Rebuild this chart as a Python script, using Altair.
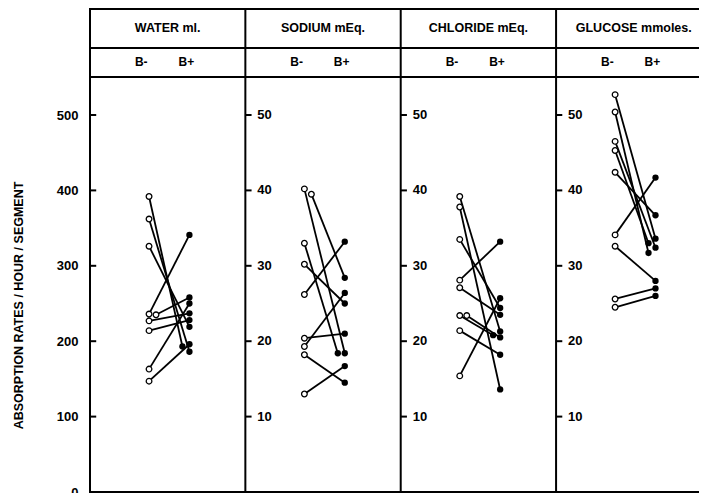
import altair as alt
import pandas as pd

panels = ["WATER ml.", "SODIUM mEq.", "CHLORIDE mEq.", "GLUCOSE mmoles."]
scale_factor = [10, 1, 1, 1]  # water is plotted at 1/10 against the common 0-50 scale
ticks_values = [10, 20, 30, 40, 50]
left_labels = [0, 100, 200, 300, 400, 500]

water_before = [392, 362, 326, 236, 235, 227, 214, 163, 147]
water_after = [193, 186, 219, 341, 258, 237, 228, 250, 196]
sodium_before = [40.2, 39.5, 33.0, 30.2, 26.2, 20.4, 19.3, 18.2, 13.0]
sodium_after = [18.4, 28.4, 18.4, 25.0, 33.2, 21.0, 26.4, 14.5, 16.7]
chloride_before = [39.2, 37.8, 33.5, 28.1, 27.1, 23.4, 23.4, 21.4, 15.4]
chloride_after = [21.3, 13.6, 24.4, 33.2, 23.5, 20.8, 20.5, 18.2, 25.7]
glucose_before = [52.7, 50.4, 46.5, 45.3, 42.4, 34.1, 32.6, 25.6, 24.5]
glucose_after = [33.6, 31.7, 32.4, 33.0, 36.7, 41.7, 28.0, 27.0, 26.0]

series = [
    (water_before, water_after),
    (sodium_before, sodium_after),
    (chloride_before, chloride_after),
    (glucose_before, glucose_after),
]

X_OPEN, X_FILL, SHIFT = 0.38, 0.64, 0.045


def dodge(values):
    """Flag a value when it overlaps the previous (sorted) one."""
    order = sorted(range(len(values)), key=lambda k: -values[k])
    flags = [False] * len(values)
    prev_v, prev_shift = None, False
    for k in order:
        v = values[k]
        if prev_v is not None and abs(v - prev_v) < 0.8 and not prev_shift:
            flags[k] = True
        prev_shift = flags[k]
        prev_v = v
    return flags


rows = []
for i, (before, after) in enumerate(series):
    f = scale_factor[i]
    b = [v / f for v in before]
    a = [v / f for v in after]
    fb = dodge(b)
    fa = dodge(a)
    for j in range(len(b)):
        pid = f"{i}-{j}"
        rows.append({"pair": pid, "grp": "B-", "ord": 0, "v": b[j],
                     "x": i + X_OPEN + (SHIFT if fb[j] else 0)})
        rows.append({"pair": pid, "grp": "B+", "ord": 1, "v": a[j],
                     "x": i + X_FILL - (SHIFT if fa[j] else 0)})
pts = pd.DataFrame(rows)

FONT = "Liberation Sans"
W, H = 609, 415
TOP = 69
xs = alt.Scale(domain=[0, 3.92], nice=False, zero=False)
ys = alt.Scale(domain=[0, 55.04], nice=False, zero=True)

lines = alt.Chart(pts).mark_line(color="black", strokeWidth=1.8).encode(
    x=alt.X("x:Q", scale=xs, axis=None),
    y=alt.Y("v:Q", scale=ys, axis=alt.Axis(
        values=[v / 10 for v in left_labels], labelExpr="datum.value * 10",
        domain=False, ticks=False, grid=False, labelPadding=12,
        labelFontSize=13, labelFontWeight="bold", labelFont=FONT, labelColor="black",
        title="ABSORPTION RATES / HOUR / SEGMENT", titleFont=FONT, titleFontSize=12.5,
        titleFontWeight="bold", titleColor="black", titleX=-72, titleY=228,
        titleAngle=-90, titleAlign="center", titleBaseline="middle")),
    detail="pair:N",
    order="ord:Q",
)

open_pts = alt.Chart(pts[pts.grp == "B-"]).mark_point(
    shape="circle", filled=True, fill="white", stroke="black", strokeWidth=1.3,
    size=32, opacity=1
).encode(x=alt.X("x:Q", scale=xs), y=alt.Y("v:Q", scale=ys))

fill_pts = alt.Chart(pts[pts.grp == "B+"]).mark_circle(
    color="black", size=40, opacity=1
).encode(x=alt.X("x:Q", scale=xs), y=alt.Y("v:Q", scale=ys))

# frame: vertical edges / dividers
div_df = pd.DataFrame({"x": [0, 1, 2, 3]})
dividers = alt.Chart(div_df).mark_rule(color="black", strokeWidth=2).encode(
    x=alt.X("x:Q", scale=xs), y=alt.value(-TOP + 0.5), y2=alt.value(H))

# frame: horizontal lines (top, header separator, plot top, bottom)
hl_df = pd.DataFrame({"y": [-TOP + 1, -29, 0, H]})
hlines = alt.Chart(hl_df).mark_rule(color="black", strokeWidth=1.8).encode(
    y=alt.Y("y:Q", scale=None), x=alt.value(-1), x2=alt.value(W))

head_df = pd.DataFrame({"label": panels, "x": [i + 0.5 for i in range(4)]})
heads = alt.Chart(head_df).mark_text(
    font=FONT, fontSize=12.5, fontWeight="bold", color="black", baseline="middle"
).encode(x=alt.X("x:Q", scale=xs), y=alt.value(-49), text="label:N")

sub_rows = []
for i in range(4):
    sub_rows.append({"t": "B-", "x": i + 0.33})
    sub_rows.append({"t": "B+", "x": i + 0.62})
sub_df = pd.DataFrame(sub_rows)
subs = alt.Chart(sub_df).mark_text(
    font=FONT, fontSize=12, fontWeight="bold", color="black", baseline="middle"
).encode(x=alt.X("x:Q", scale=xs), y=alt.value(-15), text="t:N")

tick_rows = []
for i in range(4):
    for v in ticks_values:
        tick_rows.append({"x": i, "x2": i + 0.04, "v": v, "lab": str(v), "p": i})
tick_df = pd.DataFrame(tick_rows)
tick_marks = alt.Chart(tick_df).mark_rule(color="black", strokeWidth=2).encode(
    x=alt.X("x:Q", scale=xs), x2="x2:Q", y=alt.Y("v:Q", scale=ys))
tick_labels = alt.Chart(tick_df[tick_df.p > 0]).mark_text(
    font=FONT, fontSize=13, fontWeight="bold", color="black", align="left",
    baseline="middle", dx=12
).encode(x=alt.X("x:Q", scale=xs), y=alt.Y("v:Q", scale=ys), text="lab:N")

chart = alt.layer(
    lines, dividers, hlines, heads, subs, tick_marks, tick_labels,
    open_pts, fill_pts
).properties(
    width=W, height=H,
    padding={"left": 82, "top": TOP, "right": 0, "bottom": 1},
    autosize=alt.AutoSizeParams(type="none"),
).configure_view(stroke=None).configure(background="white")

chart.save("out.html", embed_options={"renderer": "svg", "actions": False})
